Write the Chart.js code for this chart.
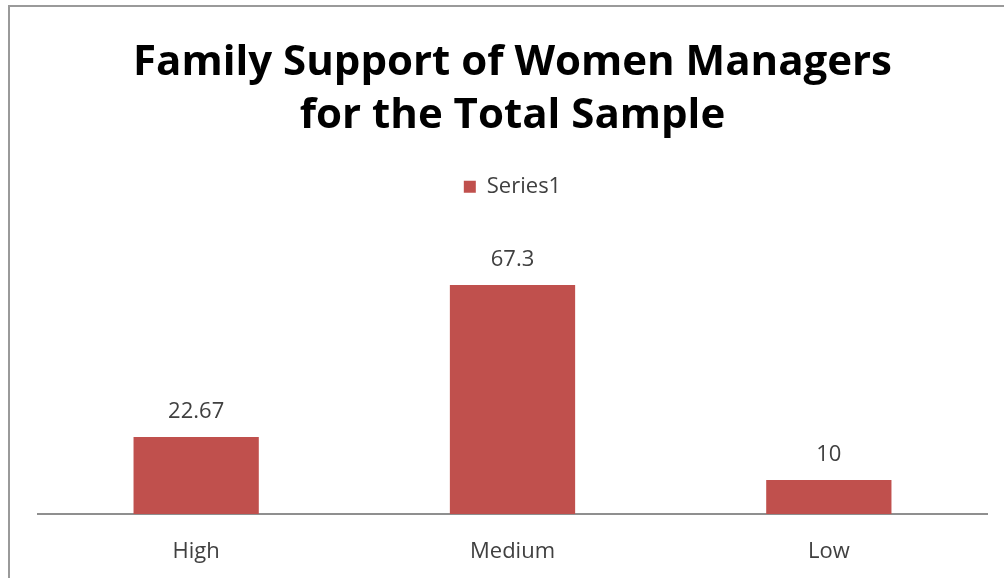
<!DOCTYPE html>
<html>
<head>
<meta charset="utf-8">
<script src="https://cdn.jsdelivr.net/npm/chart.js@4"></script>
<style>
  html, body { margin: 0; padding: 0; background: #fff; }
  #wrap { position: relative; width: 1004px; height: 578px; }
  #frame {
    position: absolute; left: 8px; top: 5px; right: -4px; bottom: -4px;
    border-left: 2px solid #9a9a9a; border-top: 2px solid #9a9a9a;
    pointer-events: none;
  }
</style>
</head>
<body>
<div id="wrap">
  <canvas id="chart" width="1004" height="578"></canvas>
  <div id="frame"></div>
</div>
<script>
const categories = ['High', 'Medium', 'Low'];
const series1 = [22.67, 67.3, 10];
const titleLines = ['Family Support of Women Managers', 'for the Total Sample'];

const barColor = '#C0504D';
const textColor = '#404040';
const fontFamily = '"Open Sans", Lato, sans-serif';

// value labels above each bar
const valueLabels = {
  id: 'valueLabels',
  afterDatasetsDraw(chart) {
    const ctx = chart.ctx;
    const meta = chart.getDatasetMeta(0);
    ctx.save();
    ctx.font = '22px ' + fontFamily;
    ctx.fillStyle = textColor;
    ctx.textAlign = 'center';
    ctx.textBaseline = 'middle';
    meta.data.forEach((bar, i) => {
      ctx.fillText(String(series1[i]), bar.x, bar.y - 25);
    });
    ctx.restore();
  }
};

const ctx = document.getElementById('chart').getContext('2d');
new Chart(ctx, {
  type: 'bar',
  data: {
    labels: categories,
    datasets: [{
      label: 'Series1',
      data: series1,
      backgroundColor: barColor,
      borderWidth: 0,
      barPercentage: 1,
      categoryPercentage: 0.396,
    }],
  },
  options: {
    responsive: false,
    animation: false,
    layout: {
      padding: { left: 38, right: 17, top: 0, bottom: 0 },
    },
    plugins: {
      title: {
        display: true,
        text: titleLines,
        color: '#000',
        font: { family: fontFamily, size: 42, weight: 'bold', lineHeight: 1.26 },
        padding: { top: 37, bottom: 23 },
      },
      legend: {
        position: 'top',
        labels: {
          color: textColor,
          font: { family: fontFamily, size: 22 },
          boxWidth: 12,
          boxHeight: 12,
          padding: 10,
        },
      },
      tooltip: { enabled: false },
    },
    scales: {
      x: {
        grid: { display: false, drawTicks: false },
        border: { display: true, color: '#8f8f8f', width: 2 },
        ticks: {
          color: textColor,
          font: { family: fontFamily, size: 22 },
          padding: 25,
        },
        afterFit(scale) {
          scale.height = 64;
        },
      },
      y: {
        display: false,
        min: 0,
        max: 90,
      },
    },
  },
  plugins: [valueLabels],
});
</script>
</body>
</html>
